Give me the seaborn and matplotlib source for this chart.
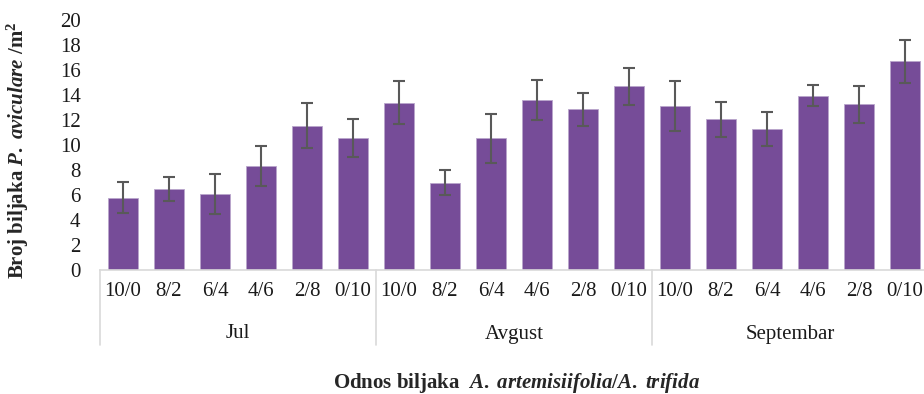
import numpy as np
import pandas as pd
import matplotlib.pyplot as plt
import seaborn as sns

# values (mean and error per ratio)
months = ['Jul', 'Avgust', 'Septembar']
ratios = ['10/0', '8/2', '6/4', '4/6', '2/8', '0/10']
jul = [5.8, 6.5, 6.05, 8.35, 11.55, 10.55]
jul_err = [1.25, 0.95, 1.6, 1.6, 1.8, 1.5]
avgust = [13.4, 7.0, 10.55, 13.6, 12.85, 14.7]
avgust_err = [1.7, 1.0, 1.95, 1.6, 1.3, 1.5]
septembar = [13.1, 12.05, 11.3, 13.95, 13.25, 16.7]
septembar_err = [2.0, 1.4, 1.35, 0.85, 1.45, 1.7]

df = pd.DataFrame({
    'mesec': np.repeat(months, len(ratios)),
    'odnos': ratios * len(months),
    'broj': jul + avgust + septembar,
    'err': jul_err + avgust_err + septembar_err,
})
df['poz'] = df['mesec'] + ' ' + df['odnos']

sns.set_style('white')
plt.rcParams['font.family'] = ['Liberation Serif', 'DejaVu Serif']
plt.rcParams['mathtext.fontset'] = 'custom'
plt.rcParams['mathtext.rm'] = 'Liberation Serif:bold'
plt.rcParams['mathtext.it'] = 'Liberation Serif:italic:bold'

fig = plt.figure(figsize=(9.24, 3.94), dpi=100)
ax = fig.add_axes([100 / 924, 124 / 394, 828 / 924, 250 / 394])

sns.barplot(data=df, x='poz', y='broj', color='#764c98', saturation=1,
            width=0.65, errorbar=None, edgecolor='#b9a6cc', linewidth=0.6, ax=ax)
ax.errorbar(np.arange(len(df)), df['broj'], yerr=df['err'], fmt='none',
            ecolor='#595959', elinewidth=1.5, capsize=4, capthick=1.5)

ax.set_ylim(0, 20)
ax.set_yticks(range(0, 21, 2))
ax.set_xlim(-0.5, len(df) - 0.5)
ax.set_xticks(range(len(df)))
ax.set_xticklabels(df['odnos'])
ax.tick_params(axis='x', length=0, pad=9, labelsize=15, labelcolor='#1a1a1a')
ax.tick_params(axis='y', length=0, pad=14, labelsize=15, labelcolor='#1a1a1a')
ax.set_xlabel('')
ax.set_ylabel('')

for s in ['left', 'top', 'right']:
    ax.spines[s].set_visible(False)
ax.spines['bottom'].set_color('#d9d9d9')
ax.spines['bottom'].set_linewidth(1.2)

# month level of the category axis
tr = ax.get_xaxis_transform()
n = len(ratios)
for i, m in enumerate(months):
    ax.text(i * n + (n - 1) / 2, -0.256, m, transform=tr, ha='center',
            va='center', fontsize=15, color='#1a1a1a')
for i in range(len(months) + 1):
    ax.plot([i * n - 0.5] * 2, [0, -0.3], transform=tr, clip_on=False,
            color='#d9d9d9', lw=1.2)

fig.text(516 / 924, 1 - 383 / 394,
         r'Odnos biljaka  $\mathit{A.}$ $\mathit{artemisiifolia/A.}$ $\mathit{trifida}$',
         ha='center', va='center', fontsize=15, fontweight='bold')
fig.text(18 / 924, 1 - 150 / 394,
         r'Broj biljaka $\mathit{P.}$ $\mathit{aviculare}$ /m$^{\mathrm{2}}$',
         ha='center', va='center', rotation=90, fontsize=15, fontweight='bold')

plt.savefig('out.png', dpi=100)
